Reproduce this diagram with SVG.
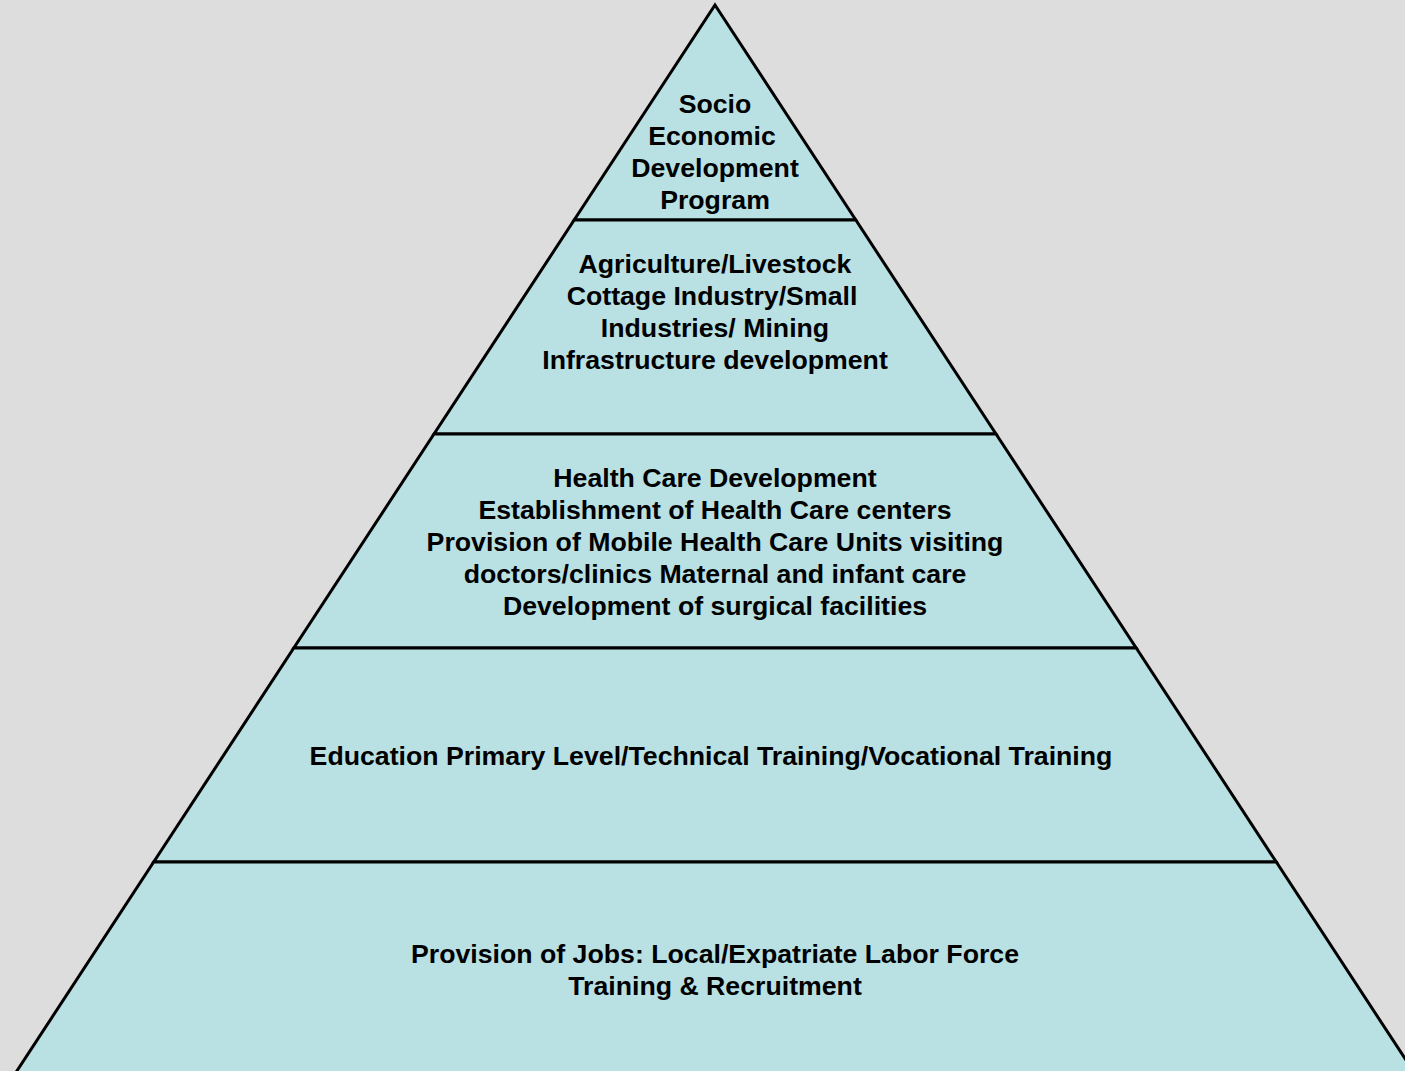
<svg xmlns="http://www.w3.org/2000/svg" width="1405" height="1071" viewBox="0 0 1405 1071">
<style>
.tier{fill:#B9E0E3;stroke:#000;stroke-width:3;stroke-linejoin:miter}
.t{font-family:"Liberation Sans",Arial,sans-serif;font-weight:bold;font-size:26.7px;fill:#000;text-anchor:middle}
</style>
<rect width="1405" height="1071" fill="#DDDDDD"/>
<g id="tier1"><polygon class="tier" points="715,5 855.8,220 574.2,220"/>
<text class="t" x="715" y="113">Socio</text><text class="t" x="712" y="145">Economic</text><text class="t" x="715" y="177">Development</text><text class="t" x="715" y="209">Program</text></g>
<g id="tier2"><polygon class="tier" points="574.2,220 855.8,220 996,434 434,434"/>
<text class="t" x="715" y="273">Agriculture/Livestock</text><text class="t" x="712" y="305">Cottage Industry/Small</text><text class="t" x="715" y="337">Industries/ Mining</text><text class="t" x="715" y="369">Infrastructure development</text></g>
<g id="tier3"><polygon class="tier" points="434,434 996,434 1136.2,648 293.8,648"/>
<text class="t" x="715" y="487">Health Care Development</text><text class="t" x="715" y="519">Establishment of Health Care centers</text><text class="t" x="715" y="551">Provision of Mobile Health Care Units visiting</text><text class="t" x="715" y="583">doctors/clinics Maternal and infant care</text><text class="t" x="715" y="615">Development of surgical facilities</text></g>
<g id="tier4"><polygon class="tier" points="293.8,648 1136.2,648 1276.3,862 153.7,862"/>
<text class="t" x="711" y="765">Education Primary Level/Technical Training/Vocational Training</text></g>
<g id="tier5"><polygon class="tier" points="153.7,862 1276.3,862 1419.7,1081 10.3,1081"/>
<text class="t" x="715" y="963">Provision of Jobs: Local/Expatriate Labor Force</text><text class="t" x="715" y="995">Training &amp; Recruitment</text></g>
<g id="connectors"/>
</svg>
